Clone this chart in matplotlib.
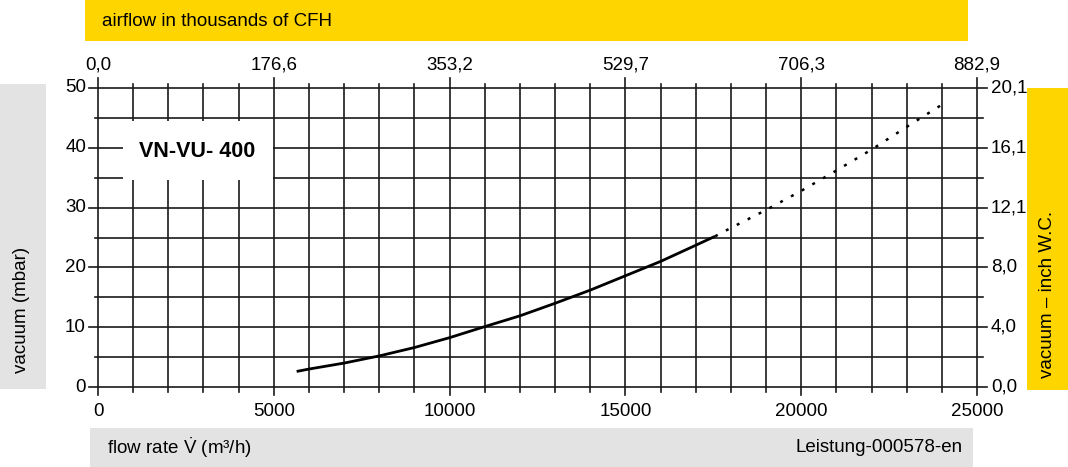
import matplotlib
matplotlib.use("Agg")
import matplotlib.pyplot as plt
from matplotlib.patches import Rectangle

plt.rcParams['font.family'] = ['Liberation Sans', 'DejaVu Sans']
plt.rcParams['mathtext.fontset'] = 'custom'
plt.rcParams['mathtext.rm'] = 'Liberation Sans'
plt.rcParams['mathtext.it'] = 'Liberation Sans'

# curve (flow in m3/h, vacuum in mbar)
flowSolid = [5650, 6000, 7000, 8000, 9000, 10000, 11000, 12000, 13000,
             14000, 15000, 16000, 17000, 17550]
vacSolid = [2.6, 3.0, 4.0, 5.2, 6.6, 8.25, 10.1, 11.9, 14.0,
            16.2, 18.6, 21.0, 23.7, 25.2]
flowDotted = [17550, 18000, 19000, 20000, 21000, 22000, 23000, 24000]
vacDotted = [25.2, 26.6, 29.6, 32.8, 36.2, 39.7, 43.5, 47.2]

bottomTicks = [0, 5000, 10000, 15000, 20000, 25000]
topLabels = ["0,0", "176,6", "353,2", "529,7", "706,3", "882,9"]
leftTicks = [0, 10, 20, 30, 40, 50]
rightLabels = ["0,0", "4,0", "8,0", "12,1", "16,1", "20,1"]

W, H = 1068, 467
YELLOW = "#FFD500"
GRAY = "#E3E3E3"
FS = 13.5


def fx(px):
    return px / W


def fy(py):
    return 1 - py / H


fig = plt.figure(figsize=(W / 100, H / 100), dpi=100)
ax = fig.add_axes([fx(98), fy(387), fx(977) - fx(98), fy(88) - fy(387)])
ax.set_xlim(0, 25000)
ax.set_ylim(0, 50)
ax.axis("off")

pxX = 25000 / 879.0   # data units per pixel
pxY = 50 / 299.0

# grid: vertical lines every 1000, horizontal every 5
gc = "#1a1a1a"
for v in range(0, 25001, 1000):
    major = v % 5000 == 0
    lo = -(8 if major else 5) * pxY
    hi = 50 + (10 if major else 4) * pxY
    ax.plot([v, v], [lo, hi], color=gc, lw=1.2, clip_on=False, zorder=1)
for m in range(0, 51, 5):
    major = m % 10 == 0
    lo = -(9 if major else 3) * pxX
    hi = 25000 + (10 if major else 6) * pxX
    ax.plot([lo, hi], [m, m], color=gc, lw=1.2, clip_on=False, zorder=1)

# white box behind the model name
ax.add_patch(Rectangle((710, 34.6), 4270, 9.9, facecolor="white",
                       edgecolor="none", zorder=2, clip_on=False))
ax.text(2816, 39.3, "VN-VU- 400", fontsize=15.5, fontweight="bold",
        ha="center", va="center", zorder=3)

# curve
ax.plot(flowSolid, vacSolid, color="black", lw=2.0, zorder=4,
        solid_capstyle="butt")
ax.plot(flowDotted, vacDotted, color="black", lw=1.8, zorder=4,
        dashes=(1.2, 3.7))

# tick labels
for v in bottomTicks:
    ax.text(v, -16 * pxY, str(v), fontsize=FS, ha="center", va="top",
            clip_on=False)
for v, lab in zip(bottomTicks, topLabels):
    ax.text(v, 50 + 14 * pxY, lab, fontsize=FS, ha="center", va="bottom",
            clip_on=False)
for m in leftTicks:
    ax.text(-12 * pxX, m, str(m), fontsize=FS, ha="right", va="center",
            clip_on=False)
for m, lab in zip(leftTicks, rightLabels):
    ax.text(25000 + 14 * pxX, m, lab, fontsize=FS, ha="left", va="center",
            clip_on=False)

# coloured label bars around the chart
def bar(x0, y0, x1, y1, color):
    fig.patches.append(Rectangle((fx(x0), fy(y1)), fx(x1) - fx(x0),
                                 fy(y0) - fy(y1), facecolor=color,
                                 edgecolor="none", transform=fig.transFigure,
                                 zorder=0))


bar(85, 0, 968, 41, YELLOW)
bar(0, 84, 46, 389, GRAY)
bar(1027, 88, 1068, 390, YELLOW)
bar(90, 428, 973, 467, GRAY)

fig.text(fx(102), fy(21), "airflow in thousands of CFH", fontsize=FS,
         ha="left", va="center")
fig.text(fx(22), fy(373), "vacuum (mbar)", fontsize=FS, rotation=90,
         ha="center", va="bottom")
fig.text(fx(1048), fy(378), "vacuum \u2013 inch W.C.", fontsize=FS,
         rotation=90, ha="center", va="bottom")
fig.text(fx(107), fy(448), "flow rate $\\dot{\\mathrm{V}}$ (m\u00b3/h)",
         fontsize=FS, ha="left", va="center")
fig.text(fx(963), fy(448), "Leistung-000578-en", fontsize=FS,
         ha="right", va="center")

fig.savefig("out.png", dpi=100)
